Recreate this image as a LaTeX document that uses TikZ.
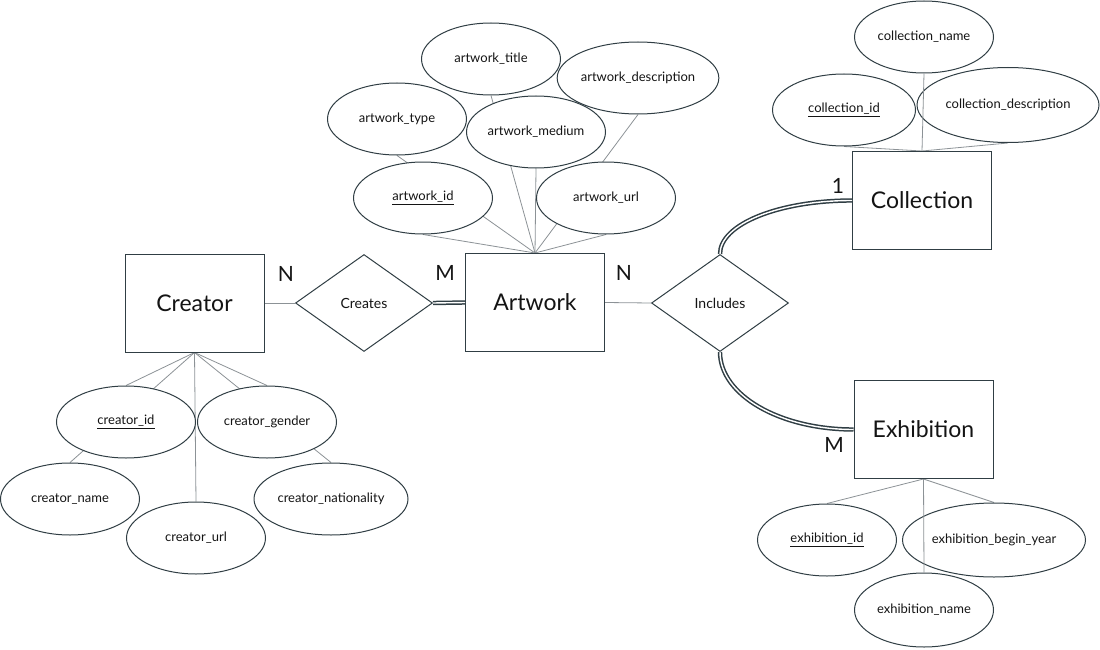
\documentclass[tikz,border=0pt]{standalone}
\usepackage{fontspec}
\setmainfont{Lato}
\usetikzlibrary{shapes.geometric,backgrounds}

\definecolor{edgegray}{RGB}{48,62,68}
\definecolor{linkgray}{RGB}{140,146,150}
\definecolor{inkblack}{RGB}{20,20,20}

\tikzset{
  entity/.style={draw=edgegray,line width=1pt,fill=white,text=inkblack,
    minimum width=139pt,minimum height=98pt,inner sep=0pt,
    font=\fontsize{23}{26}\selectfont},
  relation/.style={diamond,draw=edgegray,line width=1pt,fill=white,text=inkblack,
    minimum width=137pt,minimum height=97pt,inner sep=0pt,
    font=\fontsize{14}{16}\selectfont},
  attribute/.style={ellipse,draw=edgegray,line width=1pt,fill=white,text=inkblack,
    minimum width=139pt,minimum height=72pt,inner sep=0pt,
    font=\fontsize{13}{15}\selectfont},
  card/.style={text=inkblack,font=\fontsize{21}{24}\selectfont},
  attrlink/.style={draw=linkgray,line width=0.8pt},
  totalpart/.style={draw=edgegray,double=white,double distance=1.4pt,line width=1.5pt},
}

\begin{document}
\begin{tikzpicture}[x=1pt,y=-1pt]
\useasboundingbox (0,0) rectangle (1100,650);

% entities and relationships
\node[entity] (creator) at (194.5,303) {Creator};
\node[relation] (creates) at (364,303) {Creates};
\node[entity] (artwork) at (535,302.5) {Artwork};
\node[relation] (includes) at (720,303) {Includes};
\node[entity] (collection) at (922,200.5) {Collection};
\node[entity] (exhibition) at (923.5,429.5) {Exhibition};

% creator attributes
\node[attribute] (crid) at (126,422) {\underline{creator\_id}};
\node[attribute] (crgender) at (267,422) {creator\_gender};
\node[attribute] (crname) at (70,499) {creator\_name};
\node[attribute] (crurl) at (196,538) {creator\_url};
\node[attribute,minimum width=154pt] (crnation) at (331,499) {creator\_nationality};

% artwork attributes
\node[attribute] (awtitle) at (491,59) {artwork\_title};
\node[attribute,minimum width=161pt] (awdesc) at (638,78) {artwork\_description};
\node[attribute] (awtype) at (397,119) {artwork\_type};
\node[attribute] (awmedium) at (536,132) {artwork\_medium};
\node[attribute] (awid) at (423,198) {\underline{artwork\_id}};
\node[attribute] (awurl) at (606,198) {artwork\_url};

% collection attributes
\node[attribute] (coname) at (924,37) {collection\_name};
\node[attribute,minimum width=143pt] (coid) at (844,110) {\underline{collection\_id}};
\node[attribute,minimum width=182pt,minimum height=75pt] (codesc) at (1008,105) {collection\_description};

% exhibition attributes
\node[attribute] (exid) at (827,540) {\underline{exhibition\_id}};
\node[attribute,minimum width=183pt,minimum height=74pt] (exyear) at (994,540) {exhibition\_begin\_year};
\node[attribute,minimum height=74pt] (exname) at (924,610) {exhibition\_name};

% attribute links, behind the ellipses
\begin{scope}[on background layer]
\foreach \a in {crid,crgender,crname,crurl,crnation}
    \draw[attrlink] (creator.south) -- (\a.north);
\foreach \a in {awtitle,awdesc,awtype,awmedium,awid,awurl}
    \draw[attrlink] (artwork.north) -- (\a.south);
\foreach \a in {coid,codesc}
    \draw[attrlink] (collection.north) -- (\a.south);
\foreach \a in {exid,exyear}
    \draw[attrlink] (exhibition.south) -- (\a.north);
\end{scope}
\draw[attrlink] (collection.north) -- (coname.south);
\draw[attrlink] (exhibition.south) -- (exname.north);

% relationship lines
\draw[attrlink] (creator.east) -- (creates.west);
\draw[totalpart] (creates.east) -- (artwork.west);
\draw[attrlink] (artwork.east) -- (includes.west);
\draw[totalpart] (includes.north) .. controls +(0,-30) and +(-73,0) .. (collection.west);
\draw[totalpart] (includes.south) .. controls +(0,43) and +(-74,0) .. (exhibition.west);

% cardinalities
\node[card] (ncreator) at (286,274) {N};
\node[card] (martwork) at (445,273) {M};
\node[card] (nartwork) at (624,273) {N};
\node[card] (onecoll) at (838,186) {1};
\node[card] (mexhib) at (834,445) {M};
\end{tikzpicture}
\end{document}
